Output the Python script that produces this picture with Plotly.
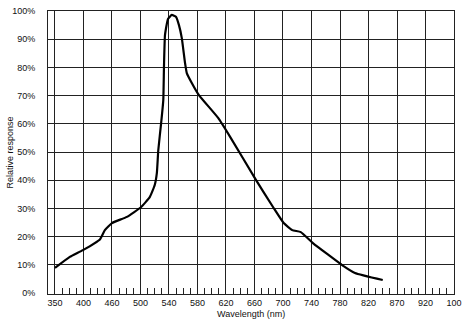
import numpy as np
import plotly.graph_objects as go

# Axis tick labels (the printed scale is not linear; each label sits on one grid line)
tick_wavelengths = [350, 400, 460, 500, 540, 580, 620, 660, 700, 740, 780, 820, 870, 920, 1000]
tick_labels = ["350", "400", "460", "500", "540", "580", "620", "660", "700", "740",
               "780", "820", "870", "920", "100"]
y_ticks = [0, 10, 20, 30, 40, 50, 60, 70, 80, 90, 100]
y_labels = [f"{v}%" for v in y_ticks]

# Curve
wavelength_nm = [350, 376, 399, 435, 445, 460, 481, 501, 513, 520, 523, 525, 529, 532,
                 533, 534.4, 538.6, 544, 550, 554, 558, 562.5, 565, 572, 582, 609, 626,
                 662, 686, 701, 713, 725, 742, 783, 801, 845]
response_pct = [8.9, 12.8, 15.2, 19.1, 22.3, 24.8, 27.0, 30.5, 34.0, 38.3, 42.6, 50.7, 60.3,
                68.4, 80.5, 91.5, 97.2, 98.6, 97.9, 95.0, 90.4, 81.6, 78.0, 74.5, 70.2, 62.1,
                55.3, 40.1, 30.5, 24.8, 22.3, 21.6, 17.7, 9.9, 7.1, 4.6]

tick_pos = list(range(len(tick_wavelengths)))
x_pos = np.interp(wavelength_nm, tick_wavelengths, tick_pos)

fig = go.Figure()
fig.add_trace(go.Scatter(x=x_pos, y=response_pct, mode="lines",
                         line=dict(color="black", width=2.2, shape="spline", smoothing=0.4),
                         hoverinfo="skip", showlegend=False))

font = dict(family="Liberation Sans, Arial, sans-serif", size=9, color="#111")

fig.update_layout(
    width=465, height=323,
    margin=dict(l=48, r=11, t=11, b=29),
    paper_bgcolor="white", plot_bgcolor="white",
    font=font,
    xaxis=dict(
        range=[-0.245, 14], tickmode="array", tickvals=tick_pos, ticktext=tick_labels,
        showgrid=True, gridcolor="#222", gridwidth=1, zeroline=False,
        showline=True, linecolor="#222", linewidth=1, mirror=True,
        ticks="", automargin=False,
        minor=dict(tick0=0, dtick=0.25, ticks="inside", ticklen=6, tickcolor="#222",
                   tickwidth=1, showgrid=False),
    ),
    yaxis=dict(
        range=[-0.35, 100], tickmode="array", tickvals=y_ticks, ticktext=y_labels,
        showgrid=True, gridcolor="#222", gridwidth=1, zeroline=False,
        showline=True, linecolor="#222", linewidth=1, mirror=True,
        ticks="outside", ticklen=10, tickcolor="rgba(0,0,0,0)", automargin=False,
    ),
    annotations=[
        dict(text="Wavelength (nm)", xref="paper", yref="paper", x=0.5, y=0,
             yshift=-13, showarrow=False, font=font, yanchor="top"),
        dict(text="Relative response", xref="paper", yref="paper", x=0, y=0.5,
             xshift=-39, textangle=-90, showarrow=False, font=font, xanchor="center"),
    ],
)

fig.write_html("out.html", config={"displayModeBar": False},
               post_script="document.body.style.margin='0';")
